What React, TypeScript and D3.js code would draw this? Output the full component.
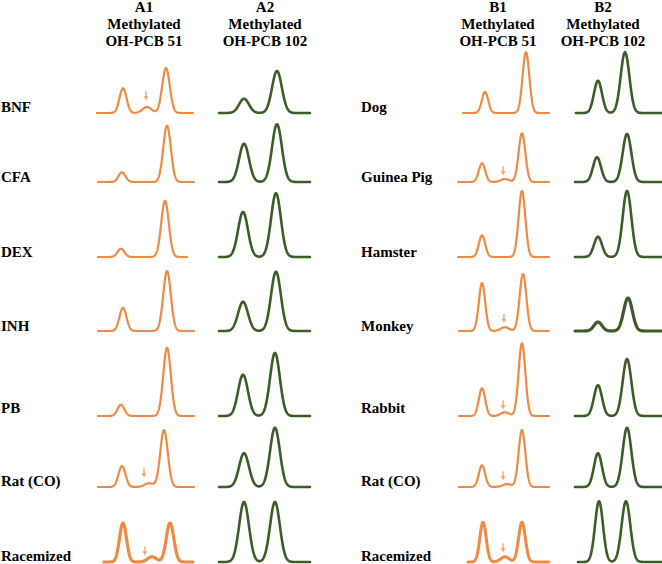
import React from "react";
import * as d3 from "d3";

// ---------------- DATA ----------------
const rowsA = ["BNF", "CFA", "DEX", "INH", "PB", "Rat (CO)", "Racemized"];
const rowsB = ["Dog", "Guinea Pig", "Hamster", "Monkey", "Rabbit", "Rat (CO)", "Racemized"];

const titleA1 = ["A1", "Methylated", "OH-PCB 51"];
const titleA2 = ["A2", "Methylated", "OH-PCB 102"];
const titleB1 = ["B1", "Methylated", "OH-PCB 51"];
const titleB2 = ["B2", "Methylated", "OH-PCB 102"];

// retention time (0-100 panel units) and relative response (0-100)
// Panel A1
const a1Peak1Time = [26.8, 25.8, 24.7, 26.8, 24.7, 25.8, 26.8];
const a1Peak1Height = [33, 13, 11, 31, 15, 28, 52];
const a1Peak2Time = [71.1, 72.2, 70.1, 72.2, 72.2, 69.1, 75.3];
const a1Peak2Height = [60, 75, 75, 80, 91, 76, 52];
const a1MinorTime = [51.5, 0, 0, 0, 0, 53.6, 56.7];
const a1MinorHeight = [8, 0, 0, 0, 0, 5, 7];
const a1ArrowTime = [50.5, null, null, null, null, 48.5, 49.5];
const a1ArrowTip = [17, 0, 0, 0, 0, 13, 9];
const a1Start = [0, 1, 1, 1, 1, 1, 7];
const a1End = [99, 100, 93, 100, 100, 100, 99];

// Panel A2
const a2Peak1Time = [27.5, 27.5, 26.4, 26.4, 26.4, 27.5, 27.5];
const a2Peak1Height = [19, 51, 60, 39, 55, 45, 80];
const a2Peak2Time = [63.7, 63.7, 62.6, 62.6, 61.5, 61.5, 61.5];
const a2Peak2Height = [56, 77, 85, 79, 84, 79, 80];
const a2Start = [0, 0, 0, 0, 0, 0, 0];
const a2End = [100, 100, 100, 100, 100, 100, 100];

// Panel B1
const b1Peak1Time = [29.7, 26.4, 26.4, 26.4, 26.4, 26.4, 27.5];
const b1Peak1Height = [28, 25, 29, 64, 37, 29, 53];
const b1Peak2Time = [74.7, 70.3, 70.3, 71.4, 70.3, 70.3, 70.3];
const b1Peak2Height = [81, 65, 88, 76, 97, 76, 53];
const b1MinorTime = [0, 51.6, 0, 51.6, 51.6, 53.8, 51.6];
const b1MinorHeight = [0, 4, 0, 5, 5, 4, 7];
const b1ArrowTime = [null, 49.5, null, 50.5, 49.5, 49.5, 49.5];
const b1ArrowTip = [0, 9, 0, 11, 9, 9, 13];
const b1Start = [5.5, 0, 0, 1, 1, 1, 11];
const b1End = [100, 100, 100, 100, 100, 100, 100];

// Panel B2
const b2Peak1Time = [26.4, 25.3, 26.4, 26.4, 26.4, 26.4, 27.6];
const b2Peak1Height = [43, 33, 27, 12, 41, 45, 81];
const b2Peak2Time = [57.5, 59.8, 59.8, 60.9, 59.8, 59.8, 58.6];
const b2Peak2Height = [81, 64, 88, 44, 76, 79, 81];
const b2Start = [1, 0, 0, 0, 0, 0, 3.5];
const b2End = [100, 100, 100, 100, 100, 100, 100];

// peak widths (sigma, time units)
const a1Sigma = [3.6, 3.9, 4.6];
const a2Sigma = [5.4, 5.4];
const b1Sigma = [3.5, 3.7, 4.6];
const b2Sigma = [4.6, 5.0];

// ---------------- LAYOUT ----------------
const W = 662;
const H = 564;
const rowBase = [113, 182, 257, 331, 416, 487, 562];
const labelBase = [112, 182, 257, 331, 413, 486, 561];
const ORANGE = "#EE8A43";
const GREEN = "#3B5E27";
const ARROW = "#F3A57C";
const FONT = "'Liberation Serif', 'Times New Roman', serif";

type Peak = { t: number; h: number; s: number };

type PanelDef = {
  title: string[];
  titleX: number;
  range: [number, number];
  color: string;
  widths: number[];
  peaks: (i: number) => Peak[];
  start: number[];
  end: number[];
  arrowTime?: (number | null)[];
  arrowTip?: number[];
};

const panels: PanelDef[] = [
  {
    title: titleA1,
    titleX: 144,
    range: [97, 194],
    color: ORANGE,
    widths: [2.2, 2.2, 2.2, 2.2, 2.2, 2.2, 3.2],
    peaks: (i) => [
      { t: a1Peak1Time[i], h: a1Peak1Height[i], s: a1Sigma[0] },
      { t: a1Peak2Time[i], h: a1Peak2Height[i], s: a1Sigma[1] },
      { t: a1MinorTime[i], h: a1MinorHeight[i], s: a1Sigma[2] },
    ],
    start: a1Start,
    end: a1End,
    arrowTime: a1ArrowTime,
    arrowTip: a1ArrowTip,
  },
  {
    title: titleA2,
    titleX: 265,
    range: [219, 310],
    color: GREEN,
    widths: [2.6, 2.6, 2.6, 2.6, 2.6, 2.6, 2.6],
    peaks: (i) => [
      { t: a2Peak1Time[i], h: a2Peak1Height[i], s: a2Sigma[0] },
      { t: a2Peak2Time[i], h: a2Peak2Height[i], s: a2Sigma[1] },
    ],
    start: a2Start,
    end: a2End,
  },
  {
    title: titleB1,
    titleX: 498,
    range: [458, 549],
    color: ORANGE,
    widths: [2.2, 2.2, 2.2, 2.2, 2.2, 2.2, 3.0],
    peaks: (i) => [
      { t: b1Peak1Time[i], h: b1Peak1Height[i], s: b1Sigma[0] },
      { t: b1Peak2Time[i], h: b1Peak2Height[i], s: b1Sigma[1] },
      { t: b1MinorTime[i], h: b1MinorHeight[i], s: b1Sigma[2] },
    ],
    start: b1Start,
    end: b1End,
    arrowTime: b1ArrowTime,
    arrowTip: b1ArrowTip,
  },
  {
    title: titleB2,
    titleX: 603,
    range: [575, 662],
    color: GREEN,
    widths: [2.6, 2.6, 2.6, 3.2, 2.6, 2.6, 2.6],
    peaks: (i) => [
      { t: b2Peak1Time[i], h: b2Peak1Height[i], s: b2Sigma[0] },
      { t: b2Peak2Time[i], h: b2Peak2Height[i], s: b2Sigma[1] },
    ],
    start: b2Start,
    end: b2End,
  },
];

const yScale = d3.scaleLinear().domain([0, 100]).range([0, 75]);

function signal(peaks: Peak[], t: number) {
  let v = 0;
  for (const p of peaks) {
    if (p.h > 0) v += p.h * Math.exp(-0.5 * ((t - p.t) / p.s) ** 2);
  }
  return v;
}

export default function App() {
  return (
    <svg
      width={W}
      height={H}
      style={{ position: "absolute", left: 0, top: 0, background: "#fff" }}
      fontFamily={FONT}
      fontWeight="bold"
      fontSize={15}
    >
      <rect width={W} height={H} fill="#fff" />
      {panels.map((p, pi) => {
        const x = d3.scaleLinear().domain([0, 100]).range(p.range);
        return (
          <g key={pi}>
            <text textAnchor="middle" fill="#000">
              {p.title.map((t, k) => (
                <tspan key={k} x={p.titleX} y={12 + k * 17}>
                  {t}
                </tspan>
              ))}
            </text>
            {rowBase.map((base, i) => {
              const peaks = p.peaks(i);
              const ts = d3.range(p.start[i], p.end[i] + 0.001, 0.25);
              const line = d3
                .line<number>()
                .x((t) => x(t))
                .y((t) => base - yScale(signal(peaks, t)))
                .curve(d3.curveLinear);
              const at = p.arrowTime ? p.arrowTime[i] : null;
              let arrow = null;
              if (at !== null && at !== undefined && p.arrowTip) {
                const ax = x(at);
                const tipY = base - yScale(p.arrowTip[i]);
                arrow = (
                  <g>
                    <line x1={ax} x2={ax} y1={tipY - 9} y2={tipY - 3} stroke={ARROW} strokeWidth={1.4} />
                    <path d={`M${ax - 2.6},${tipY - 4} L${ax + 2.6},${tipY - 4} L${ax},${tipY} Z`} fill={ARROW} />
                  </g>
                );
              }
              return (
                <g key={i}>
                  <path
                    d={line(ts) || ""}
                    fill="none"
                    stroke={p.color}
                    strokeWidth={p.widths[i]}
                    strokeLinejoin="round"
                    strokeLinecap="round"
                  />
                  {arrow}
                </g>
              );
            })}
          </g>
        );
      })}
      {rowsA.map((r, i) => (
        <text key={"a" + i} x={1} y={labelBase[i]} fill="#000">
          {r}
        </text>
      ))}
      {rowsB.map((r, i) => (
        <text key={"b" + i} x={361} y={labelBase[i]} fill="#000">
          {r}
        </text>
      ))}
    </svg>
  );
}
